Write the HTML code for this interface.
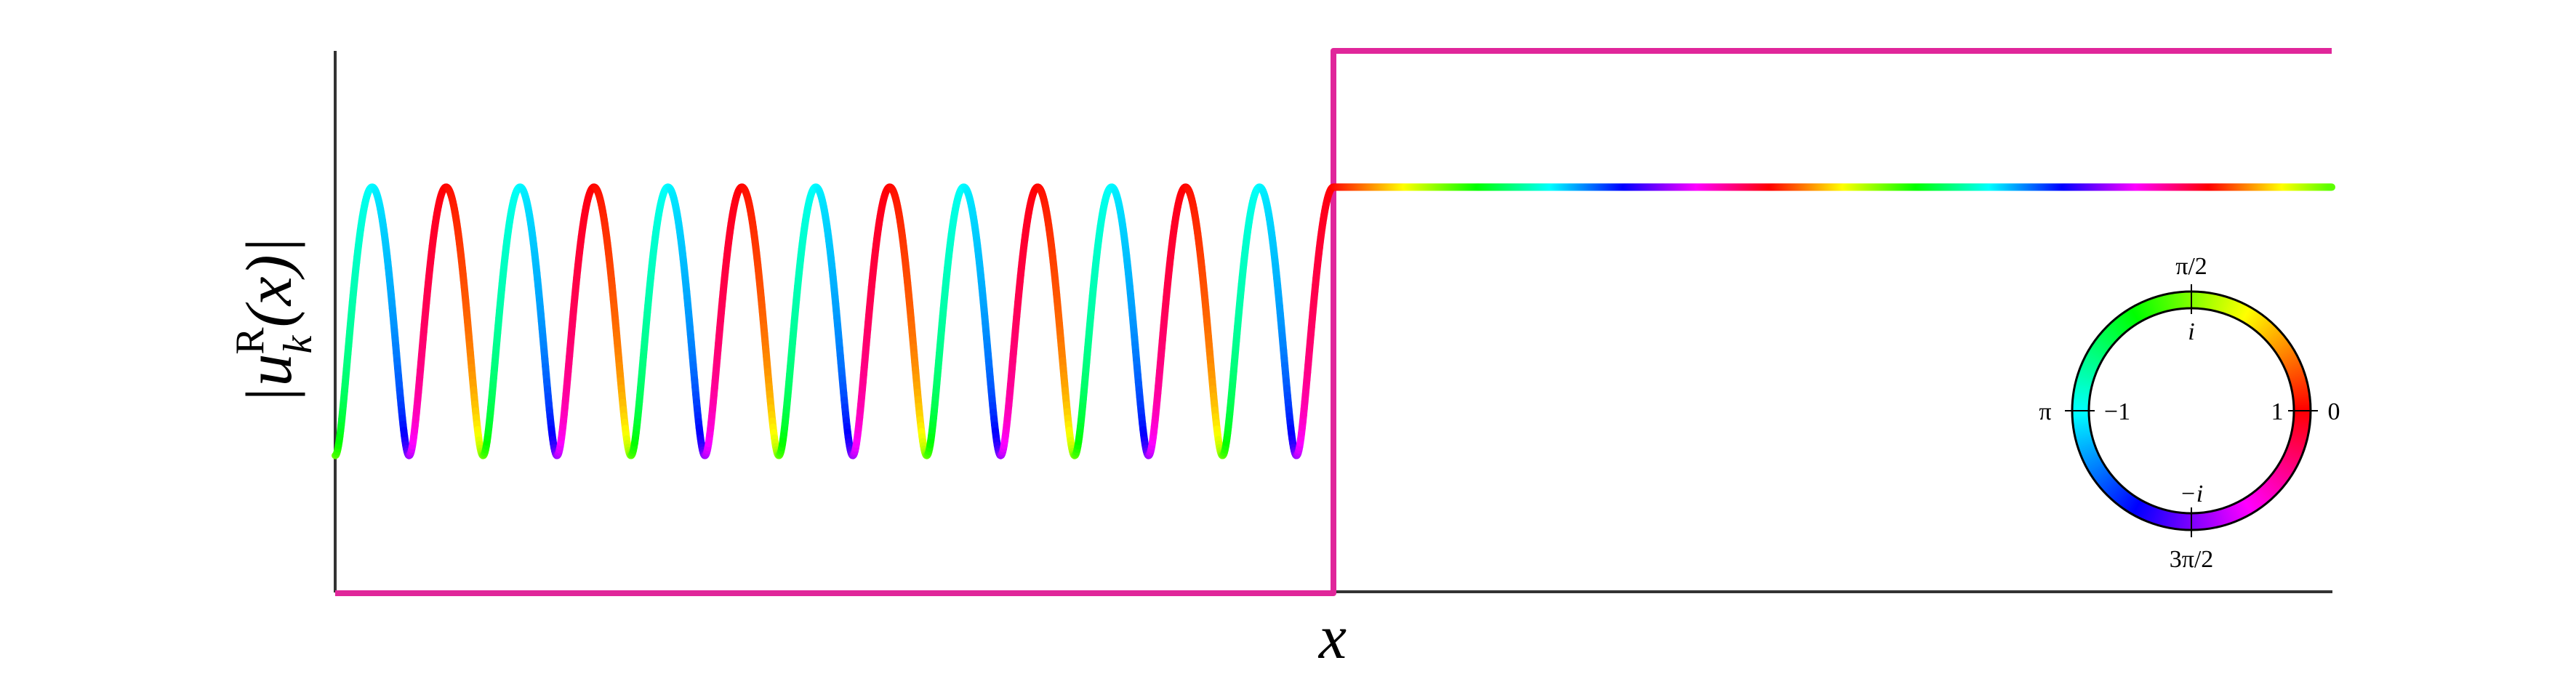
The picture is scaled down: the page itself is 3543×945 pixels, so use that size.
<!DOCTYPE html>
<html><head><meta charset="utf-8"><style>
html,body{margin:0;padding:0;background:#fff;}
svg{display:block;}
text{font-family:"Liberation Serif","DejaVu Serif",serif;fill:#000;}
</style></head><body>
<svg id="chart" width="3543" height="945" viewBox="0 0 3543 945" xmlns="http://www.w3.org/2000/svg">
  <g id="axes">
    <line x1="461" y1="70" x2="461" y2="815" stroke="#333" stroke-width="4"/>
    <line x1="461" y1="814" x2="3208" y2="814" stroke="#333" stroke-width="4"/>
  </g>
  <g id="marks"></g>
  <text transform="translate(400,441) rotate(-90)" text-anchor="middle" font-size="90" font-style="italic">|u<tspan font-size="56" dy="28" >k</tspan><tspan font-size="56" dy="-66" dx="-26" font-style="normal">R</tspan><tspan dy="38">(x)|</tspan></text>
  <text x="1833" y="905" text-anchor="middle" font-size="86" font-style="italic">x</text>
  <g id="phase-legend"></g>
</svg>
<script>
// ---- data (x in units of incident wavelength, y in amplitude units) ----
const xDomain = [-6.75, 6.75];
const yDomain = [0, 2];
const stepPosition = [0];
const potentialLevels = [0, 2];        // left / right potential
const wavelengths = [1, 2.97];         // incident, transmitted
const legendTicks = ["0", "π/2", "π", "3π/2"];
const legendInner = ["1", "i", "−1", "−i"];

// ---- axis functions ----
const X0 = 461, X1 = 3207, Y0 = 814, Y1 = 70;
const sx = v => X0 + (v - xDomain[0]) / (xDomain[1] - xDomain[0]) * (X1 - X0);
const sy = v => Y0 - (v - yDomain[0]) / (yDomain[1] - yDomain[0]) * (Y0 - Y1);

const NS = "http://www.w3.org/2000/svg";
const marks = document.getElementById("marks");

const k1 = 2 * Math.PI / wavelengths[0], k2 = 2 * Math.PI / wavelengths[1];
const r = (k1 - k2) / (k1 + k2), t = 1 + r;
function psi(x) {
  if (x < stepPosition[0]) {
    return [Math.cos(k1 * x) + r * Math.cos(-k1 * x), Math.sin(k1 * x) + r * Math.sin(-k1 * x)];
  }
  return [t * Math.cos(k2 * x), t * Math.sin(k2 * x)];
}
function hueOf(re, im) {
  let a = Math.atan2(im, re) * 180 / Math.PI;
  if (a < 0) a += 360;
  return a;
}

const pot = document.createElementNS(NS, "polyline");


pot.setAttribute("points",
  `${sx(xDomain[0])},${sy(potentialLevels[0]) + 2} ${sx(stepPosition[0])},${sy(potentialLevels[0]) + 2} ${sx(stepPosition[0])},${sy(potentialLevels[1])} ${sx(xDomain[1])},${sy(potentialLevels[1])}`);
pot.setAttribute("fill", "none");
pot.setAttribute("stroke", "#e0269a");
pot.setAttribute("stroke-width", "8");
pot.setAttribute("stroke-linejoin", "round");
marks.appendChild(pot);

const wave = document.createElementNS(NS, "g");


marks.appendChild(wave);
const N = 3000;
let prev = null;
for (let i = 0; i <= N; i++) {
  const x = xDomain[0] + (xDomain[1] - xDomain[0]) * i / N;
  const p = psi(x);
  const pt = [sx(x), sy(Math.hypot(p[0], p[1])), hueOf(p[0], p[1])];
  if (prev) {
    const ln = document.createElementNS(NS, "line");
    ln.setAttribute("x1", prev[0]); ln.setAttribute("y1", prev[1]);
    ln.setAttribute("x2", pt[0]); ln.setAttribute("y2", pt[1]);
    ln.setAttribute("stroke", `hsl(${pt[2]},100%,50%)`);
    ln.setAttribute("stroke-width", "10");
    ln.setAttribute("stroke-linecap", "round");
    wave.appendChild(ln);
  }
  prev = pt;
}

const L = document.getElementById("phase-legend");
const cx = 3014, cy = 565, Ro = 164, Ri = 141;
for (let a = 0; a < 360; a += 1) {
  const a0 = a * Math.PI / 180, a1 = (a + 1.5) * Math.PI / 180;
  const p = document.createElementNS(NS, "path");
  const pts = [[Ro, a0], [Ro, a1], [Ri, a1], [Ri, a0]].map(([R, th]) => [cx + R * Math.cos(th), cy - R * Math.sin(th)]);
  p.setAttribute("d", `M${pts[0]}L${pts[1]}L${pts[2]}L${pts[3]}Z`);
  p.setAttribute("fill", `hsl(${a},100%,50%)`);
  L.appendChild(p);
}
[Ro, Ri].forEach(R => {
  const c = document.createElementNS(NS, "circle");
  c.setAttribute("cx", cx); c.setAttribute("cy", cy); c.setAttribute("r", R);
  c.setAttribute("fill", "none"); c.setAttribute("stroke", "#000"); c.setAttribute("stroke-width", "3");
  L.appendChild(c);
});
const dirs = [[1, 0], [0, 1], [-1, 0], [0, -1]];
const outerPos = [[3210, 577], [3014, 377], [2813, 577], [3014, 780]];
const innerPos = [[3132, 577], [3014, 467], [2912, 577], [3014, 690]];
dirs.forEach((d, i) => {
  const tk = document.createElementNS(NS, "line");
  tk.setAttribute("x1", cx + d[0] * (Ri - 8)); tk.setAttribute("y1", cy - d[1] * (Ri - 8));
  tk.setAttribute("x2", cx + d[0] * (Ro + 10)); tk.setAttribute("y2", cy - d[1] * (Ro + 10));
  tk.setAttribute("stroke", "#000"); tk.setAttribute("stroke-width", "2");
  L.appendChild(tk);
  const t1 = document.createElementNS(NS, "text");
  
  
  t1.setAttribute("x", outerPos[i][0]); t1.setAttribute("y", outerPos[i][1]);
  t1.setAttribute("text-anchor", "middle"); t1.setAttribute("font-size", "34");
  t1.textContent = legendTicks[i];
  L.appendChild(t1);
  const t2 = document.createElementNS(NS, "text");
  
  
  t2.setAttribute("x", innerPos[i][0]); t2.setAttribute("y", innerPos[i][1]);
  t2.setAttribute("text-anchor", "middle"); t2.setAttribute("font-size", "34");
  if (i % 2 === 1) t2.setAttribute("font-style", "italic");
  t2.textContent = legendInner[i];
  L.appendChild(t2);
});
</script>
</body></html>
